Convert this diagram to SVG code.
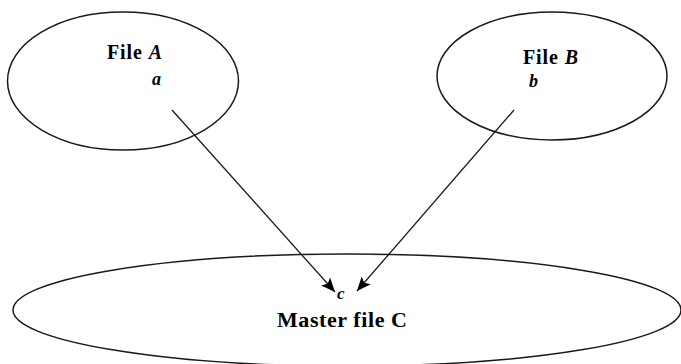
<svg xmlns="http://www.w3.org/2000/svg" width="681" height="364" viewBox="0 0 681 364">
<defs>
<style>
.shape{fill:none;stroke:#1a1a1a;stroke-width:1.5}
.lbl{font-family:"Liberation Serif","Times New Roman",serif;font-weight:bold;fill:#000}
.it{font-style:italic}
.conn{stroke:#1a1a1a;stroke-width:1.3;fill:none}
</style>
<marker id="ah" viewBox="0 0 14 12" refX="14" refY="6" markerWidth="14" markerHeight="12" markerUnits="userSpaceOnUse" orient="auto">
<path d="M0,0 L14,6 L0,12 L3,6 Z" fill="#000"/>
</marker>
</defs>
<rect width="681" height="364" fill="#fff"/>
<g id="fileA">
<ellipse class="shape" cx="123" cy="81" rx="115.5" ry="69"/>
<text class="lbl" x="107" y="59" font-size="20" textLength="55">File <tspan class="it">A</tspan></text>
<text class="lbl it" x="152" y="85" font-size="18">a</text>
</g>
<g id="fileB">
<ellipse class="shape" cx="552" cy="76" rx="115" ry="64"/>
<text class="lbl" x="523" y="64" font-size="20" textLength="55">File <tspan class="it">B</tspan></text>
<text class="lbl it" x="529" y="87" font-size="18">b</text>
</g>
<g id="masterC">
<ellipse class="shape" cx="347" cy="310" rx="334" ry="56"/>
<text class="lbl it" x="337" y="299" font-size="17">c</text>
<text class="lbl" x="277" y="327" font-size="22" textLength="130">Master file C</text>
</g>
<g id="connectors">
<line class="conn" x1="172" y1="110" x2="335" y2="292" marker-end="url(#ah)"/>
<line class="conn" x1="514" y1="110" x2="357" y2="291" marker-end="url(#ah)"/>
</g>
</svg>
